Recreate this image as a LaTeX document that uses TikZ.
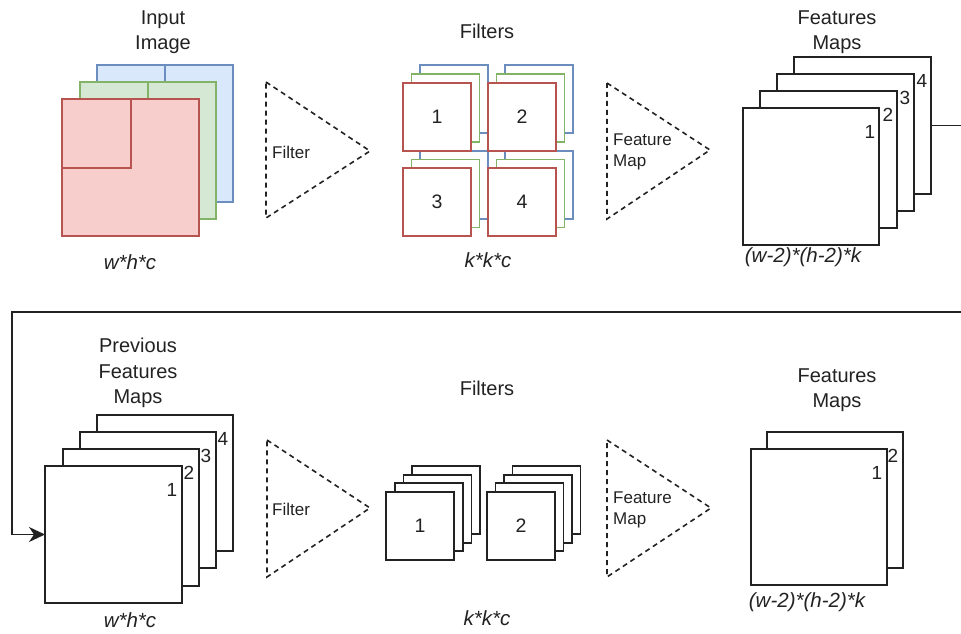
\documentclass[tikz,border=0pt]{standalone}
\usepackage{fontspec}
\setmainfont{Liberation Sans}
\usetikzlibrary{arrows.meta}
\definecolor{bfill}{HTML}{DAE8FC}\definecolor{bline}{HTML}{6C8EBF}
\definecolor{gfill}{HTML}{D5E8D4}\definecolor{gline}{HTML}{82B366}
\definecolor{rfill}{HTML}{F8CECC}\definecolor{rline}{HTML}{B85450}
\definecolor{ink}{HTML}{222222}
% \rbox{style}{x1}{y1}{x2}{y2}{name}{text}
\newcommand\rbox[7]{\node[#1, minimum width={(#4)-(#2)}, minimum height={(#5)-(#3)}] (#6) at ({((#2)+(#4))/2},{((#3)+(#5))/2}) {#7};}
\begin{document}
\begin{tikzpicture}[x=1pt,y=-1pt,
  sq/.style={draw=ink, fill=white, line width=1.9pt, inner sep=0pt, outer sep=0pt, text=ink, font=\fontsize{19.5}{22}\selectfont},
  bsq/.style={sq, draw=bline, fill=bfill},
  gsq/.style={sq, draw=gline, fill=gfill},
  rsq/.style={sq, draw=rline, fill=rfill},
  bw/.style={sq, draw=bline},
  gw/.style={sq, draw=gline},
  rw/.style={sq, draw=rline},
  title/.style={font=\fontsize{20}{25.5}\selectfont, align=center, inner sep=0pt, text=ink},
  dimlab/.style={font=\fontsize{20.5}{22}\selectfont\itshape, inner sep=0pt, text=ink},
  num/.style={font=\fontsize{19}{22}\selectfont, inner sep=0pt, text=ink},
  small/.style={font=\fontsize{17}{21}\selectfont, align=left, inner sep=0pt, anchor=west, text=ink},
  tri/.style={draw=ink, dash pattern=on 5pt off 4pt, line width=1.6pt},
  link/.style={draw=ink, line width=1.9pt}]
\useasboundingbox (0,0) rectangle (961,633);
\clip (0,0) rectangle (961,633);

% ---------------- top row ----------------
\node[title] (tIn) at (163,32) {Input\\Image};
\rbox{bsq}{97}{65}{233}{202}{inB}{}
\draw[draw=bline, line width=1.9pt] (inB.north) -- (inB.center);
\rbox{gsq}{80}{82}{216}{219}{inG}{}
\draw[draw=gline, line width=1.9pt] (inG.north) -- (inG.center);
\rbox{rsq}{62}{99}{199}{236}{inR}{}
\rbox{rsq}{62}{99}{131}{168}{inR2}{}
\node[dimlab] (tD1) at (130,262) {w*h*c};

\coordinate (t1a) at (266,82); \coordinate (t1b) at (266,218); \coordinate (t1c) at (370,151);
\draw[tri] (t1a) -- (t1c) -- (t1b) -- cycle;
\node[small] (t1l) at (272,152) {Filter};

\node[title] (tF) at (487,31) {Filters};
% group 3
\rbox{bw}{420}{151}{488}{219}{f3b}{}
\rbox{gw}{411.5}{159.5}{479.5}{227.5}{f3g}{}
\rbox{rw}{403}{168}{471}{236}{f3r}{3}
% group 4
\rbox{bw}{505}{151}{573}{219}{f4b}{}
\rbox{gw}{496.5}{159.5}{564.5}{227.5}{f4g}{}
\rbox{rw}{488}{168}{556}{236}{f4r}{4}
% group 1
\rbox{bw}{420}{65}{488}{133}{f1b}{}
\rbox{gw}{411.5}{74}{479.5}{142}{f1g}{}
\rbox{rw}{403}{83}{471}{151}{f1r}{1}
% group 2
\rbox{bw}{505}{65}{573}{133}{f2b}{}
\rbox{gw}{496.5}{74}{564.5}{142}{f2g}{}
\rbox{rw}{488}{83}{556}{151}{f2r}{2}
\node[dimlab] (tD2) at (488,260) {k*k*c};

\coordinate (t2a) at (607,83); \coordinate (t2b) at (607,219); \coordinate (t2c) at (710,150);
\draw[tri] (t2a) -- (t2c) -- (t2b) -- cycle;
\node[small] (t2l) at (613,152) {Feature\\Map};

\node[title] (tFM) at (837,32) {Features\\Maps};
\rbox{sq}{794}{57}{931}{194}{tm4}{}
\rbox{sq}{777}{74}{914}{211}{tm3}{}
\rbox{sq}{760}{91}{897}{228}{tm2}{}
\rbox{sq}{743}{108}{879}{245}{tm1}{}
\node[num] at ([shift={(-9,24)}]tm1.north east) {1};
\node[num] at ([shift={(-9,24)}]tm2.north east) {2};
\node[num] at ([shift={(-9,24)}]tm3.north east) {3};
\node[num] at ([shift={(-9,24)}]tm4.north east) {4};
\node[dimlab] (tD3) at (803,257) {(w-2)*(h-2)*k};

% ---------------- bottom row ----------------
\node[title] (bPF) at (138,373) {Previous\\Features\\Maps};
\rbox{sq}{97}{415}{233}{551}{bm4}{}
\rbox{sq}{80}{432}{216}{568}{bm3}{}
\rbox{sq}{63}{449}{199}{586}{bm2}{}
\rbox{sq}{45}{466}{182}{603}{bm1}{}
\node[num] at ([shift={(-10,24)}]bm1.north east) {1};
\node[num] at ([shift={(-10,24)}]bm2.north east) {2};
\node[num] at ([shift={(-10,24)}]bm3.north east) {3};
\node[num] at ([shift={(-10,24)}]bm4.north east) {4};
\node[dimlab] (bD1) at (130,620) {w*h*c};

\coordinate (t3a) at (267,440); \coordinate (t3b) at (267,577); \coordinate (t3c) at (370,508);
\draw[tri] (t3a) -- (t3c) -- (t3b) -- cycle;
\node[small] (t3l) at (272,509) {Filter};

\node[title] (bF) at (487,388) {Filters};
\rbox{sq}{412}{466}{480}{534}{g1d}{}
\rbox{sq}{403.5}{474.7}{471.5}{542.7}{g1c}{}
\rbox{sq}{395}{483.3}{463}{551.3}{g1b}{}
\rbox{sq}{386}{492}{454}{560}{g1a}{1}
\rbox{sq}{512.5}{466}{580.5}{534}{g2d}{}
\rbox{sq}{504}{474.7}{572}{542.7}{g2c}{}
\rbox{sq}{495.5}{483.3}{563.5}{551.3}{g2b}{}
\rbox{sq}{487}{492}{555}{560}{g2a}{2}
\node[dimlab] (bD2) at (487,618) {k*k*c};

\coordinate (t4a) at (607,440); \coordinate (t4b) at (607,577); \coordinate (t4c) at (711,508);
\draw[tri] (t4a) -- (t4c) -- (t4b) -- cycle;
\node[small] (t4l) at (613,510) {Feature\\Map};

\node[title] (bFM) at (837,390) {Features\\Maps};
\rbox{sq}{767}{432}{903}{568}{om2}{}
\rbox{sq}{751}{449}{887}{585}{om1}{}
\node[num] at ([shift={(-10,24)}]om1.north east) {1};
\node[num] at ([shift={(-10,24)}]om2.north east) {2};
\node[dimlab] (bD3) at (807,602) {(w-2)*(h-2)*k};

% ---------------- loop connector ----------------
\coordinate (loopR) at (975,0);
\coordinate (loopL) at (12,312);
\draw[link, -{Stealth[length=16pt,width=15pt,inset=5pt]}]
  (tm4.east) -- (tm4.east -| loopR) |- (loopL) |- (bm1.west);
\end{tikzpicture}
\end{document}
